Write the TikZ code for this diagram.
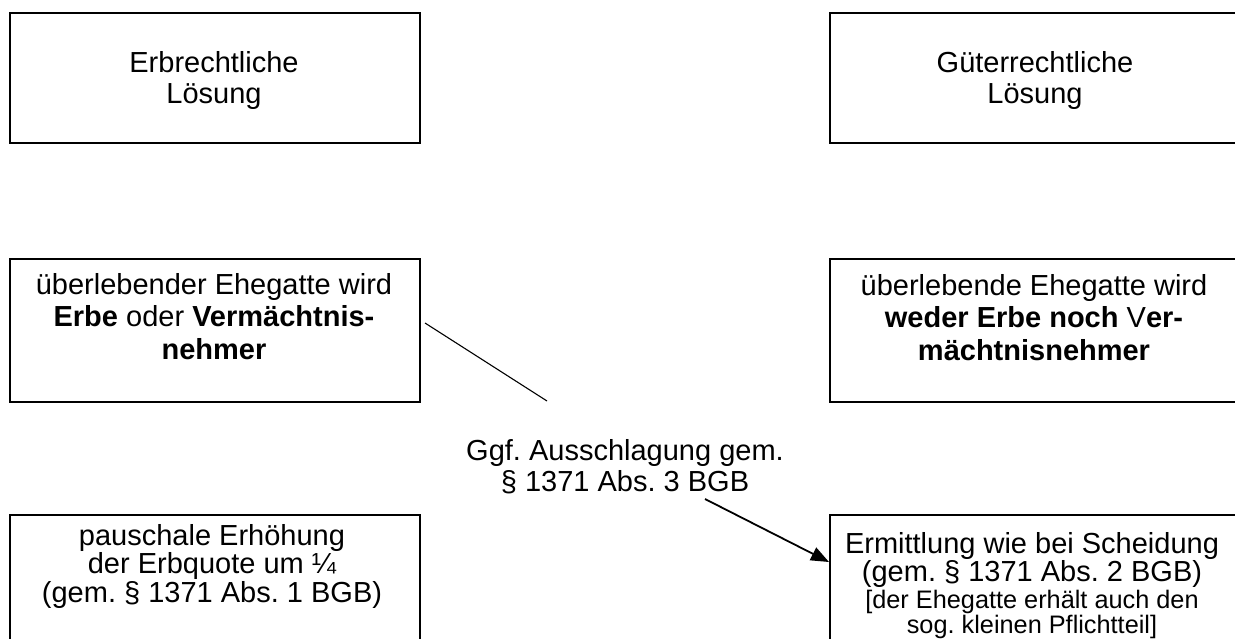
\documentclass[tikz,border=0pt]{standalone}
\usepackage{fontspec}
\setmainfont{Liberation Sans}
\usetikzlibrary{arrows.meta,calc}
\frenchspacing

\begin{document}
\begin{tikzpicture}[x=1pt,y=-1pt,
  box/.style={draw=black, line width=2.2pt, inner sep=0pt, outer sep=0pt,
              minimum width=410pt, anchor=north west},
  txt/.style={inner sep=0pt, outer sep=0pt, align=center, anchor=north},
  fs/.style={font=\fontsize{29}{#1}\selectfont},
  link/.style={draw=black, line width=1.1pt},
  arrowlink/.style={draw=black, line width=1.8pt,
                    -{Triangle[length=18pt,width=14pt]}},
]
\useasboundingbox (0,0) rectangle (1235,639);
\clip (0,0) rectangle (1235,639);
\fill[white] (0,0) rectangle (1235,639);

% frames of the six boxes
\node[box, minimum height=130pt] (A) at (10,13) {};
\node[box, minimum height=130pt] (B) at (830,13) {};
\node[box, minimum height=143pt] (C) at (10,259) {};
\node[box, minimum height=143pt] (D) at (830,259) {};
\node[box, minimum height=150pt] (E) at (10,515) {};
\node[box, minimum height=150pt] (F) at (830,515) {};

% box texts
\node[txt, fs=31] (At) at ($(A.north west)+(204,38)$) {Erbrechtliche\\Lösung};
\node[txt, fs=31] (Bt) at ($(B.north west)+(205,38)$) {Güterrechtliche\\Lösung};
\node[txt, fs=32.5] (Ct) at ($(C.north west)+(204,14)$)
  {überlebender Ehegatte wird\\\textbf{Erbe} oder \textbf{Vermächtnis-}\\\textbf{nehmer}};
\node[txt, fs=32.5] (Dt) at ($(D.north west)+(204,15)$)
  {überlebende Ehegatte wird\\\textbf{weder Erbe noch} V\textbf{er-}\\\textbf{mächtnisnehmer}};
\node[txt, fs=28.5] (Et) at ($(E.north west)+(202,9)$)
  {pauschale Erhöhung\\der Erbquote um ¼\\(gem. § 1371 Abs. 1 BGB)};
\node[txt, fs=28] (Ft) at ($(F.north west)+(202,17)$)
  {Ermittlung wie bei Scheidung\\(gem. § 1371 Abs. 2 BGB)\\[-1pt]
   \fontsize{25.3}{25}\selectfont [der Ehegatte erhält auch den\\[-3pt]
   \fontsize{25.3}{25}\selectfont sog. kleinen Pflichtteil]};

% label between the columns
\node[txt, fs=31] (G) at (625,439) {Ggf. Ausschlagung gem.\\§ 1371 Abs. 3 BGB};

% connectors
\coordinate (g1) at ($(G.north)+(-78,-38)$);
\coordinate (g2) at ($(G.north)+(80,60)$);
\draw[link] ($(C.north east)+(5,64)$) -- (g1);
\draw[arrowlink] (g2) -- ($(F.north west)+(-1,47)$);
\end{tikzpicture}
\end{document}
